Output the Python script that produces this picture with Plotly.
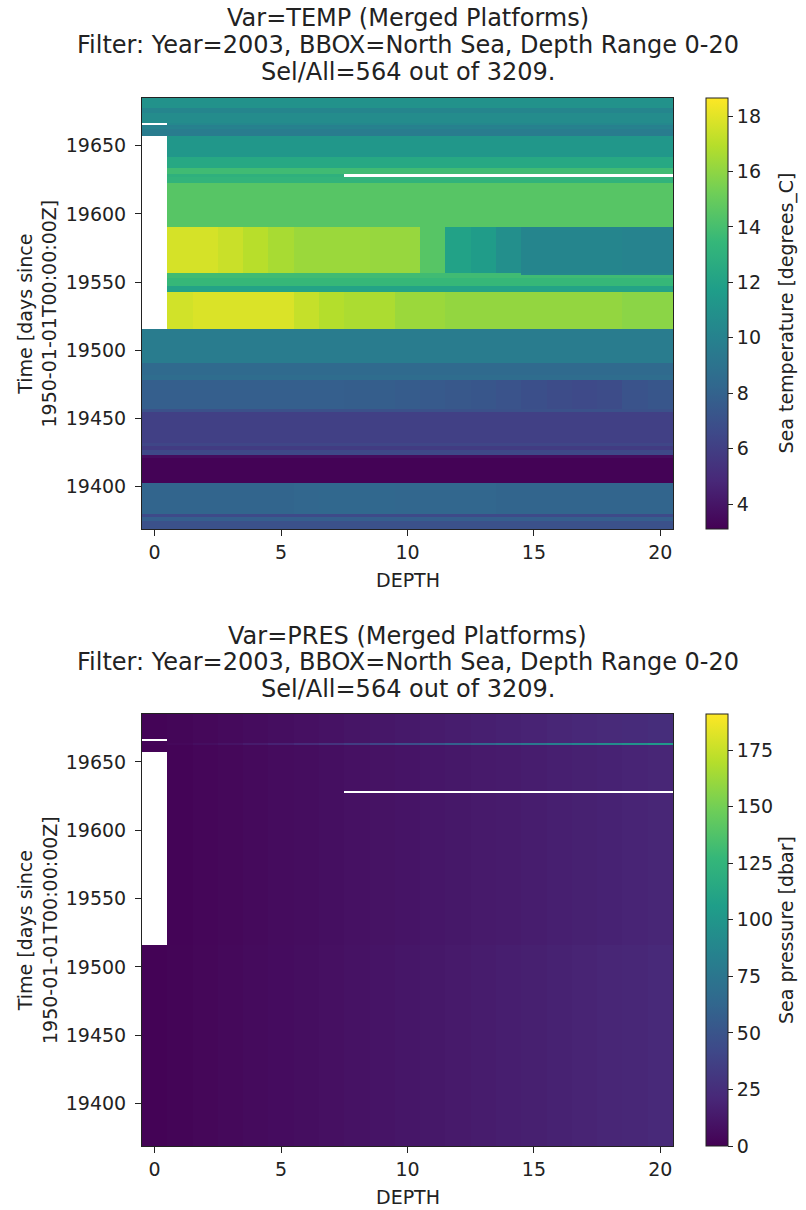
import plotly.graph_objects as go

# ---- data -------------------------------------------------------------
DEPTH = [0, 1, 2, 3, 4, 5, 6, 7, 8, 9, 10, 11, 12, 13, 14, 15, 16, 17, 18, 19, 20]

# time bin edges (days since 1950-01-01), bottom to top
TIME_EDGES = [19369.0, 19375.0, 19377.5, 19380.0, 19403.0, 19421.0, 19423.0,
              19427.0, 19430.0, 19432.0, 19455.0, 19457.0, 19478.0, 19482.0,
              19491.0, 19516.0, 19543.0, 19547.0, 19553.0, 19555.0, 19556.5,
              19590.5, 19623.0, 19627.0, 19629.0, 19634.0, 19641.5, 19657.5,
              19662.5, 19664.0, 19665.0, 19666.5, 19674.0, 19678.0, 19685.0]

N = None
# sea temperature [degrees_C], one row per time bin, one value per depth
TEMP_ROWS = [
    [7.0, 7.0, 7.0, 7.0, 7.0, 7.0, 7.0, 7.0, 7.0, 7.0, 7.0, 7.0, 7.0, 7.0, 7.0, 7.0, 7.0, 7.0, 7.0, 7.0, 7.0],
    [7.8, 7.8, 7.8, 7.8, 7.8, 7.8, 7.8, 7.8, 7.8, 7.8, 7.8, 7.8, 7.8, 7.8, 7.8, 7.8, 7.8, 7.8, 7.8, 7.8, 7.8],
    [6.6, 6.6, 6.6, 6.6, 6.6, 6.6, 6.6, 6.6, 6.6, 6.6, 6.6, 6.6, 6.6, 6.6, 6.6, 6.6, 6.6, 6.6, 6.6, 6.6, 6.6],
    [8.1, 8.1, 8.1, 8.1, 8.1, 8.1, 8.2, 8.3, 8.3, 8.3, 8.2, 8.2, 8.2, 8.2, 8.1, 8.1, 8.1, 8.1, 8.1, 8.1, 8.1],
    [3.2, 3.2, 3.2, 3.2, 3.2, 3.2, 3.2, 3.2, 3.2, 3.2, 3.2, 3.2, 3.2, 3.2, 3.2, 3.2, 3.2, 3.2, 3.2, 3.2, 3.2],
    [3.6, 3.6, 3.6, 3.6, 3.6, 3.6, 3.6, 3.6, 3.6, 3.6, 3.6, 3.6, 3.6, 3.6, 3.6, 3.6, 3.6, 3.6, 3.6, 3.6, 3.6],
    [6.5, 6.5, 6.5, 6.5, 6.5, 6.5, 6.5, 6.5, 6.5, 6.5, 6.5, 6.5, 6.5, 6.5, 6.5, 6.5, 6.5, 6.5, 6.5, 6.5, 6.5],
    [5.8, 5.8, 5.8, 5.8, 5.8, 5.8, 5.8, 5.8, 5.8, 5.8, 5.8, 5.8, 5.8, 5.8, 5.8, 5.8, 5.8, 5.8, 5.8, 5.8, 5.8],
    [6.4, 6.4, 6.4, 6.4, 6.4, 6.4, 6.4, 6.4, 6.4, 6.4, 6.4, 6.4, 6.4, 6.4, 6.4, 6.4, 6.4, 6.4, 6.4, 6.4, 6.4],
    [6.1, 6.1, 6.1, 6.1, 6.1, 6.1, 6.1, 6.1, 6.1, 6.1, 6.1, 6.1, 6.1, 6.1, 6.1, 6.1, 6.1, 6.1, 6.1, 6.1, 6.1],
    [7.0, 7.0, 7.0, 7.0, 7.0, 7.0, 7.0, 7.0, 7.0, 7.0, 7.0, 7.0, 7.0, 7.0, 7.0, 7.0, 7.0, 7.0, 7.0, 7.0, 7.0],
    [7.8, 7.8, 7.8, 7.8, 7.8, 7.8, 7.8, 7.8, 7.7, 7.7, 7.6, 7.5, 7.4, 7.3, 7.1, 6.9, 6.7, 6.6, 6.7, 7.1, 7.3],
    [8.6, 8.6, 8.6, 8.6, 8.6, 8.6, 8.6, 8.6, 8.6, 8.6, 8.6, 8.6, 8.6, 8.6, 8.6, 8.6, 8.6, 8.6, 8.6, 8.6, 8.6],
    [8.4, 8.4, 8.4, 8.4, 8.4, 8.4, 8.4, 8.4, 8.4, 8.4, 8.4, 8.4, 8.4, 8.4, 8.4, 8.4, 8.4, 8.4, 8.4, 8.4, 8.4],
    [9.6, 9.6, 9.6, 9.6, 9.6, 9.6, 9.6, 9.6, 9.6, 9.6, 9.6, 9.6, 9.6, 9.6, 9.6, 9.6, 9.6, 9.6, 9.6, 9.6, 9.6],
    [N, 17.6, 17.8, 17.8, 17.8, 17.8, 17.3, 16.9, 16.7, 16.7, 16.3, 16.3, 16.1, 16.1, 16.1, 16.1, 16.1, 16.1, 16.1, 15.9, 15.9],
    [N, 12.1, 12.1, 12.1, 12.1, 12.1, 12.1, 12.1, 12.1, 12.1, 12.1, 12.1, 12.1, 12.1, 12.1, 12.1, 12.1, 12.1, 12.1, 12.1, 12.1],
    [N, 13.5, 13.5, 13.5, 13.5, 13.5, 13.5, 13.5, 13.5, 13.5, 13.5, 13.5, 13.5, 13.5, 13.5, 13.5, 13.5, 13.5, 13.5, 13.5, 13.5],
    [N, 13.8, 13.8, 13.8, 13.8, 13.8, 13.8, 13.8, 13.8, 13.8, 13.8, 13.8, 13.8, 13.8, 13.8, 13.8, 13.8, 13.8, 13.8, 13.8, 13.8],
    [N, 13.8, 13.8, 13.8, 13.8, 13.8, 13.8, 13.8, 13.8, 13.8, 13.8, 13.8, 13.8, 13.8, 13.8, 10.3, 10.3, 10.3, 10.3, 10.3, 10.3],
    [N, 17.7, 17.7, 17.4, 17.0, 16.6, 16.3, 16.3, 16.3, 16.2, 16.2, 14.5, 12.0, 11.6, 10.8, 10.2, 10.2, 10.2, 10.2, 10.1, 10.1],
    [N, 14.5, 14.5, 14.5, 14.5, 14.5, 14.5, 14.5, 14.5, 14.5, 14.5, 14.5, 14.5, 14.5, 14.5, 14.5, 14.5, 14.5, 14.5, 14.5, 14.5],
    [N, 13.2, 13.2, 13.2, 13.2, 13.2, 13.2, 13.2, 13.2, 13.2, 13.2, 13.2, 13.2, 13.2, 13.2, 13.2, 13.2, 13.2, 13.2, 13.2, 13.2],
    [N, 13.0, 13.0, 13.0, 13.0, 13.0, 13.0, 13.0, N, N, N, N, N, N, N, N, N, N, N, N, N],
    [N, 13.8, 13.8, 13.8, 13.8, 13.8, 13.8, 13.8, 13.8, 13.8, 13.8, 13.8, 13.8, 13.8, 13.8, 13.8, 13.8, 13.8, 13.8, 13.8, 13.8],
    [N, 12.4, 12.4, 12.4, 12.4, 12.4, 12.4, 12.4, 12.4, 12.4, 12.4, 12.4, 12.4, 12.4, 12.4, 12.4, 12.4, 12.4, 12.4, 12.4, 12.4],
    [N, 11.3, 11.3, 11.3, 11.3, 11.3, 11.3, 11.3, 11.3, 11.3, 11.3, 11.3, 11.3, 11.3, 11.3, 11.3, 11.3, 11.3, 11.3, 11.3, 11.3],
    [9.6, 9.6, 9.6, 9.6, 9.6, 9.6, 9.6, 9.6, 9.6, 9.6, 9.6, 9.6, 9.6, 9.6, 9.6, 9.6, 9.6, 9.6, 9.6, 9.6, 9.6],
    [10.0, 10.0, 10.0, 10.0, 10.0, 10.0, 10.0, 10.0, 10.0, 10.0, 10.0, 10.0, 10.0, 10.0, 10.0, 10.0, 10.0, 10.0, 10.0, 10.0, 10.0],
    [9.9, 9.9, 9.9, 9.9, 9.9, 9.9, 9.9, 9.9, 9.9, 9.9, 9.9, 9.9, 9.9, 9.9, 9.9, 9.9, 9.9, 9.9, 9.9, 9.9, 9.9],
    [N, 10.4, 10.4, 10.4, 10.4, 10.4, 10.4, 10.4, 10.4, 10.4, 10.4, 10.4, 10.4, 10.4, 10.4, 10.4, 10.4, 10.4, 10.4, 10.4, 10.4],
    [10.6, 10.6, 10.6, 10.6, 10.6, 10.6, 10.6, 10.6, 10.6, 10.6, 10.6, 10.6, 10.6, 10.6, 10.6, 10.6, 10.6, 10.6, 10.6, 10.6, 10.6],
    [10.2, 10.2, 10.2, 10.2, 10.2, 10.2, 10.2, 10.2, 10.2, 10.2, 10.2, 10.2, 10.2, 10.2, 10.2, 10.2, 10.2, 10.2, 10.2, 10.2, 10.2],
    [11.0, 11.0, 11.0, 11.0, 11.0, 11.0, 11.0, 11.0, 11.0, 11.0, 11.0, 11.0, 11.0, 11.0, 11.0, 11.0, 11.0, 11.0, 11.0, 11.0, 11.0],
]

# sea pressure [dbar] depth profiles
PRES_LOW = [1.0, 2.0, 3.1, 4.1, 5.2, 6.2, 7.3, 8.3, 9.4, 10.4, 11.5, 12.5, 13.6, 14.6, 15.7, 16.7, 17.8, 18.8, 19.9, 20.9, 22.0]
PRES_MID = [1.0, 1.9, 2.9, 3.8, 4.8, 5.8, 6.7, 7.7, 8.6, 9.6, 10.6, 11.5, 12.5, 13.4, 14.4, 15.4, 16.3, 17.3, 18.2, 19.2, 20.2]
PRES_TOP = [1.5, 2.6, 3.8, 4.9, 6.1, 7.2, 8.4, 9.5, 10.7, 11.8, 13.0, 14.1, 15.3, 16.4, 17.6, 18.7, 19.9, 21.0, 22.2, 23.3, 24.5]
PRES_SPIKE = [2.0, 4.0, 7.0, 10.0, 14.0, 18.0, 23.0, 28.0, 34.0, 40.0, 46.0, 52.0, 58.0, 64.0, 70.0, 76.0, 82.0, 87.0, 92.0, 97.0, 102.0]

PRES_ROWS = [PRES_LOW] * 15 + [PRES_MID] * 13 + [PRES_SPIKE] + [PRES_TOP] * 5

TEMP_LIMITS = (3.1, 18.65)
PRES_LIMITS = (0.0, 191.0)
TEMP_TICKS = [4, 6, 8, 10, 12, 14, 16, 18]
PRES_TICKS = [0, 25, 50, 75, 100, 125, 150, 175]
TIME_TICKS = [19400, 19450, 19500, 19550, 19600, 19650]
DEPTH_TICKS = [0, 5, 10, 15, 20]

TITLE_LINES = [
    ["Var=TEMP (Merged Platforms)",
     "Filter: Year=2003, BBOX=North Sea, Depth Range 0-20",
     "Sel/All=564 out of 3209."],
    ["Var=PRES (Merged Platforms)",
     "Filter: Year=2003, BBOX=North Sea, Depth Range 0-20",
     "Sel/All=564 out of 3209."],
]
CBAR_LABELS = ["Sea temperature [degrees_C]", "Sea pressure [dbar]"]

# pressure shares the missing samples of temperature
PRES_Z = [[None if t is None else p for t, p in zip(trow, prow)]
          for trow, prow in zip(TEMP_ROWS, PRES_ROWS)]

# ---- layout geometry (pixels) ----------------------------------------
W, H = 806, 1210
FONT = "DejaVu Sans"
INK = "#222222"
TICK_SIZE = 19
TITLE_SIZE = 24
AX_L, AX_R = 142, 673
PANELS = [dict(top=98, bottom=529, title_y=[18, 45, 72], xlabel_y=580),
          dict(top=714, bottom=1146, title_y=[636, 662, 689], xlabel_y=1197)]
CB_X = 706


def px(x):
    return x / W


def py(y):
    return 1 - y / H


fig = go.Figure()

for i, (z, lim, ticks, label) in enumerate(
        [(TEMP_ROWS, TEMP_LIMITS, TEMP_TICKS, CBAR_LABELS[0]),
         (PRES_Z, PRES_LIMITS, PRES_TICKS, CBAR_LABELS[1])]):
    p = PANELS[i]
    sfx = "" if i == 0 else "2"
    fig.add_trace(go.Heatmap(
        x=DEPTH, y=TIME_EDGES, z=z,
        colorscale="Viridis", zmin=lim[0], zmax=lim[1],
        xaxis="x" + sfx, yaxis="y" + sfx,
        hoverongaps=False,
        colorbar=dict(
            x=px(CB_X), xanchor="left", xpad=0, ypad=0,
            y=py(p["top"]), yanchor="top",
            len=(p["bottom"] - p["top"]) / H, lenmode="fraction",
            thickness=22, outlinecolor=INK, outlinewidth=1,
            tickvals=ticks, ticks="outside", ticklen=5, tickcolor=INK,
            tickfont=dict(family=FONT, size=TICK_SIZE, color=INK),
        ),
    ))
    axis_common = dict(showline=True, mirror=True, linecolor=INK, linewidth=1,
                       ticks="outside", ticklen=6, tickcolor=INK,
                       showgrid=False, zeroline=False,
                       tickfont=dict(family=FONT, size=TICK_SIZE, color=INK))
    fig.layout["xaxis" + sfx] = dict(
        domain=[px(AX_L), px(AX_R)], anchor="y" + sfx,
        range=[-0.5, 20.5], tickvals=DEPTH_TICKS, **axis_common)
    fig.layout["yaxis" + sfx] = dict(
        domain=[py(p["bottom"]), py(p["top"])], anchor="x" + sfx,
        range=[TIME_EDGES[0], TIME_EDGES[-1]], tickvals=TIME_TICKS,
        tickformat="d", ticklabelstandoff=5, **axis_common)

    for line, yy in zip(TITLE_LINES[i], p["title_y"]):
        fig.add_annotation(text=line, x=px((AX_L + AX_R) / 2), y=py(yy),
                           xref="paper", yref="paper", showarrow=False,
                           xanchor="center", yanchor="middle",
                           font=dict(family=FONT, size=TITLE_SIZE, color=INK))
    fig.add_annotation(text="DEPTH", x=px((AX_L + AX_R) / 2), y=py(p["xlabel_y"]),
                       xref="paper", yref="paper", showarrow=False,
                       xanchor="center", yanchor="middle",
                       font=dict(family=FONT, size=TICK_SIZE, color=INK))
    fig.add_annotation(text="Time [days since<br>1950-01-01T00:00:00Z]",
                       x=px(37), y=py((p["top"] + p["bottom"]) / 2),
                       xref="paper", yref="paper", showarrow=False,
                       textangle=-90, xanchor="center", yanchor="middle",
                       font=dict(family=FONT, size=TICK_SIZE, color=INK))
    fig.add_annotation(text=label, x=px(786), y=py((p["top"] + p["bottom"]) / 2),
                       xref="paper", yref="paper", showarrow=False,
                       textangle=-90, xanchor="center", yanchor="middle",
                       font=dict(family=FONT, size=TICK_SIZE, color=INK))

fig.update_layout(width=W, height=H, margin=dict(l=0, r=0, t=0, b=0),
                  paper_bgcolor="white", plot_bgcolor="white",
                  showlegend=False)

fig.write_html("out.html")
